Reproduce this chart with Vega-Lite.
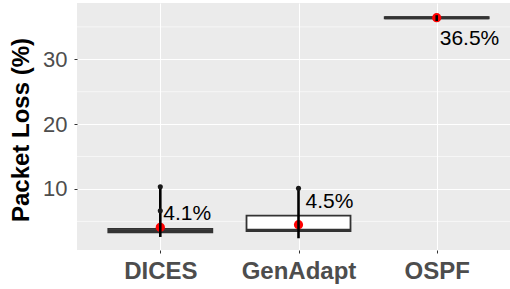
{
  "$schema": "https://vega.github.io/schema/vega-lite/v6.json",
  "autosize": {"type": "none"},
  "padding": {"left": 77, "top": 3, "right": 0, "bottom": 39},
  "width": 433,
  "height": 247,
  "config": {
    "view": {"fill": "#EBEBEB", "stroke": null},
    "font": "Liberation Sans",
    "axis": {"domain": false, "tickColor": "#333333", "tickSize": 3, "gridColor": "#FFFFFF", "gridWidth": 1.1, "labelColor": "#4D4D4D", "labelFont": "Liberation Sans", "titleFont": "Liberation Sans"}
  },
  "datasets": {
    "stats": [
      {"method": "DICES", "q1": 3.3, "median": 3.55, "q3": 3.85, "lo": 2.6, "hi": 10.35, "mean": 4.1, "label": "4.1%"},
      {"method": "GenAdapt", "q1": 3.5, "median": 3.65, "q3": 5.9, "lo": 2.4, "hi": 10.1, "mean": 4.5, "label": "4.5%"},
      {"method": "OSPF", "q1": 36.3, "median": 36.4, "q3": 36.5, "lo": 35.9, "hi": 36.8, "mean": 36.42, "label": "36.5%"}
    ],
    "outliers": [
      {"method": "DICES", "v": 10.35},
      {"method": "DICES", "v": 6.65},
      {"method": "GenAdapt", "v": 10.1}
    ],
    "minor": [{"g": 5}, {"g": 15}, {"g": 25}, {"g": 35}]
  },
  "layer": [
    {
      "data": {"name": "minor"},
      "mark": {"type": "rule", "color": "#FFFFFF", "strokeWidth": 0.6},
      "encoding": {
        "y": {"field": "g", "type": "quantitative", "scale": {"domain": [0.59, 38.68], "nice": false, "zero": false}, "title": "Packet Loss (%)"}
      }
    },
    {
      "data": {"name": "stats"},
      "mark": {"type": "bar", "fill": "#FFFFFF", "stroke": "#333333", "strokeWidth": 1.8, "width": 104},
      "encoding": {
        "x": {"field": "method", "type": "nominal", "title": null,
              "scale": {"type": "point", "domain": ["DICES", "GenAdapt", "OSPF"], "padding": 0.5665, "align": 0.532},
              "axis": {"labelFontSize": 24, "labelFontWeight": "bold", "labelAngle": 0, "labelPadding": 6, "grid": true}},
        "y": {"field": "q1", "type": "quantitative", "title": "Packet Loss (%)",
              "axis": {"values": [10, 20, 30], "labelFontSize": 22, "labelPadding": 7, "titleFontSize": 24, "titleFontWeight": "bold", "titleColor": "#000000", "titleX": -56, "titleY": 126.5, "titleBaseline": "middle", "titleAlign": "center", "titleAngle": -90}},
        "y2": {"field": "q3"}
      }
    },
    {
      "data": {"name": "stats"},
      "mark": {"type": "tick", "color": "#333333", "size": 104, "thickness": 3, "opacity": 1},
      "encoding": {
        "x": {"field": "method", "type": "nominal"},
        "y": {"field": "median", "type": "quantitative"}
      }
    },
    {
      "data": {"name": "stats"},
      "mark": {"type": "circle", "color": "#FF0000", "size": 85, "opacity": 1},
      "encoding": {
        "x": {"field": "method", "type": "nominal"},
        "y": {"field": "mean", "type": "quantitative"}
      }
    },
    {
      "data": {"name": "stats"},
      "mark": {"type": "rule", "color": "#000000", "strokeWidth": 2.6},
      "encoding": {
        "x": {"field": "method", "type": "nominal"},
        "y": {"field": "lo", "type": "quantitative"},
        "y2": {"field": "hi"}
      }
    },
    {
      "data": {"name": "outliers"},
      "mark": {"type": "circle", "color": "#1A1A1A", "size": 26, "opacity": 1},
      "encoding": {
        "x": {"field": "method", "type": "nominal"},
        "y": {"field": "v", "type": "quantitative"}
      }
    },
    {
      "data": {"name": "stats"},
      "transform": [{"filter": "datum.method === 'DICES'"}],
      "mark": {"type": "text", "fontSize": 21, "color": "#000000", "align": "left", "baseline": "alphabetic", "dx": 3, "dy": -7},
      "encoding": {
        "x": {"field": "method", "type": "nominal"},
        "y": {"field": "mean", "type": "quantitative"},
        "text": {"field": "label"}
      }
    },
    {
      "data": {"name": "stats"},
      "transform": [{"filter": "datum.method === 'GenAdapt'"}],
      "mark": {"type": "text", "fontSize": 21, "color": "#000000", "align": "left", "baseline": "alphabetic", "dx": 7, "dy": -17},
      "encoding": {
        "x": {"field": "method", "type": "nominal"},
        "y": {"field": "mean", "type": "quantitative"},
        "text": {"field": "label"}
      }
    },
    {
      "data": {"name": "stats"},
      "transform": [{"filter": "datum.method === 'OSPF'"}],
      "mark": {"type": "text", "fontSize": 21, "color": "#000000", "align": "left", "baseline": "alphabetic", "dx": 3, "dy": 27},
      "encoding": {
        "x": {"field": "method", "type": "nominal"},
        "y": {"field": "mean", "type": "quantitative"},
        "text": {"field": "label"}
      }
    }
  ]
}
